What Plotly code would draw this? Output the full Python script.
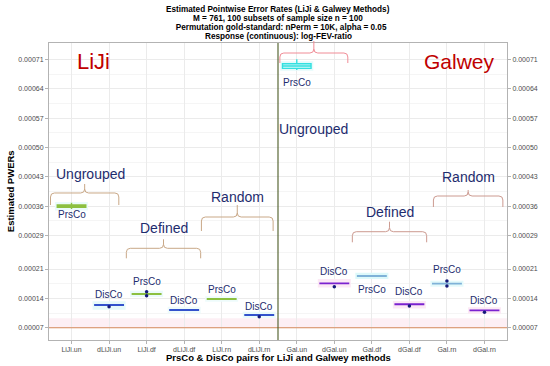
import plotly.graph_objects as go

# ---------------- data ----------------
categories = ["LiJi.un", "dLiJi.un", "LiJi.df", "dLiJi.df", "LiJi.rn", "dLiJi.rn",
              "Gal.un", "dGal.un", "Gal.df", "dGal.df", "Gal.rn", "dGal.rn"]
pair_labels = ["PrsCo", "DisCo", "PrsCo", "DisCo", "PrsCo", "DisCo",
               "PrsCo", "DisCo", "PrsCo", "DisCo", "PrsCo", "DisCo"]
box_median = [0.000360, 0.0001242, 0.0001504, 0.0001122, 0.0001385, 0.0001003,
              0.0006946, 0.0001760, 0.0001934, 0.0001258, 0.0001750, 0.0001115]
box_q1 = [0.0003573, 0.0001236, 0.0001498, 0.0001117, 0.0001380, 0.0000998,
          0.0006890, 0.0001755, 0.0001928, 0.0001252, 0.0001745, 0.0001110]
box_q3 = [0.0003628, 0.0001248, 0.0001510, 0.0001127, 0.0001390, 0.0001008,
          0.0007000, 0.0001765, 0.0001940, 0.0001264, 0.0001755, 0.0001120]
box_lo = [0.0003533, 0.0001236, 0.0001498, 0.0001117, 0.0001380, 0.0000998,
          0.0006850, 0.0001755, 0.0001928, 0.0001252, 0.0001745, 0.0001110]
box_hi = [0.0003680, 0.0001248, 0.0001510, 0.0001127, 0.0001390, 0.0001008,
          0.0007110, 0.0001765, 0.0001940, 0.0001264, 0.0001755, 0.0001120]
band_lo = [0.0003500, 0.0001130, 0.0001430, 0.0001040, 0.0001320, 0.0000930,
           0.0006830, 0.0001660, 0.0001860, 0.0001160, 0.0001680, 0.0001030]
band_hi = [0.0003700, 0.0001330, 0.0001580, 0.0001200, 0.0001450, 0.0001080,
           0.0007060, 0.0001860, 0.0002010, 0.0001340, 0.0001820, 0.0001190]
# individual dots (means / extreme points)
pt_cat = ["dLiJi.un", "LiJi.df", "LiJi.df", "dLiJi.rn", "dGal.un", "dGal.df",
          "Gal.rn", "Gal.rn", "dGal.rn"]
pt_val = [0.0001200, 0.0001560, 0.0001465, 0.0000963, 0.0001679, 0.0001218,
          0.0001815, 0.0001695, 0.0001068]
# label heights for PrsCo/DisCo text
pair_label_y = [0.000339, 0.0001504, 0.0001798, 0.0001344, 0.0001616, 0.0001201,
                0.0006564, 0.0002036, 0.0001623, 0.0001576, 0.0002094, 0.0001344]
y_tickvals = [0.00007, 0.00014, 0.00021, 0.00029, 0.00036, 0.00043,
              0.00050, 0.00057, 0.00064, 0.00071]
y_ticktext = ["0.00007", "0.00014", "0.00021", "0.00029", "0.00036", "0.00043",
              "0.00050", "0.00057", "0.00064", "0.00071"]
threshold = 0.00007
band_top = 0.0000925

# groups: name, start, end (x in category units), label y, brace horizontal y, tip y, end y
group_names = ["Ungrouped", "Defined", "Random", "Ungrouped", "Defined", "Random"]
group_x0 = [-0.56, 1.46, 3.46, 5.55, 7.48, 9.64]
group_x1 = [1.26, 3.44, 5.37, 7.36, 9.46, 11.49]
group_label_y = [0.0004368, 0.0003072, 0.0003819, 0.0005442, 0.0003468, 0.000429]
group_label_x = [0.5, 2.45, 4.41, 6.45, 8.47, 10.57]
brace_h = [0.0003915, 0.0002595, 0.0003342, 0.0007256, 0.0002991, 0.0003843]
brace_tip = [0.000413, 0.000281, 0.0003628, 0.0007543, 0.000323, 0.0003987]
brace_end = [0.0003628, 0.0002356, 0.0003008, 0.0007017, 0.0002738, 0.0003581]
brace_colors = ["#C9A887", "#C9A887", "#C9A887", "#F08C96", "#CC9A90", "#CC9A90"]

# ---------------- styles ----------------
line_colors = ["#8CC041", "#3352CC", "#8CC041", "#3352CC", "#8CC041", "#3352CC",
               "#33E0E0", "#7B22D0", "#7FB2D8", "#7B22D0", "#7FB2D8", "#7B22D0"]
fill_colors = ["rgba(200,240,240,0.6)", "rgba(225,250,250,0.5)", "rgba(225,250,250,0.5)",
               "rgba(225,250,250,0.5)", "rgba(225,250,250,0.5)", "rgba(225,250,250,0.5)",
               "rgba(210,250,250,0.7)", "rgba(225,250,250,0.5)", "rgba(225,250,250,0.5)",
               "rgba(225,250,250,0.5)", "rgba(225,250,250,0.5)", "rgba(225,250,250,0.5)"]
band_colors = ["#E9FBFB", "#E6FAFA", "#EAFBFB", "#EEFBFB", "#EEFBFB", "#EAFBFB",
               "#E4FBFB", "#FCE9F5", "#DDF9FA", "#FCE9F5", "#E4FAFB", "#FCE9F5"]
navy = "#1E2C6E"
red = "#C00000"
FONT = "Liberation Sans, Arial"

XMIN, XMAX = -0.6, 11.6
YMIN, YMAX = 0.00004064, 0.0007495
idx = {c: i for i, c in enumerate(categories)}

fig = go.Figure()

# background bands behind boxes
fig.add_trace(go.Bar(
    x=list(range(len(categories))),
    y=[h - l for l, h in zip(band_lo, band_hi)],
    base=band_lo, width=0.88,
    marker=dict(color=band_colors, line=dict(width=0)),
    hoverinfo="skip", showlegend=False))

# boxes
for i, c in enumerate(categories):
    fig.add_trace(go.Box(
        x=[i], q1=[box_q1[i]], median=[box_median[i]], q3=[box_q3[i]],
        lowerfence=[box_lo[i]], upperfence=[box_hi[i]],
        width=0.76, whiskerwidth=0,
        line=dict(color=line_colors[i], width=1.4),
        fillcolor=fill_colors[i], boxpoints=False,
        showlegend=False, hoverinfo="skip"))

# dots
fig.add_trace(go.Scatter(
    x=[idx[c] for c in pt_cat], y=pt_val, mode="markers",
    marker=dict(color="#141A7A", size=3.5),
    showlegend=False, hoverinfo="skip"))

# invisible trace to activate the right axis
fig.add_trace(go.Scatter(x=list(range(len(categories))), y=box_median, yaxis="y2",
                         mode="markers", marker=dict(opacity=0), showlegend=False,
                         hoverinfo="skip"))

shapes = []
# pink band and threshold line
shapes.append(dict(type="rect", xref="paper", yref="y", x0=0, x1=1, y0=threshold, y1=band_top,
                   fillcolor="#FDEFF4", line=dict(width=0), layer="below"))
shapes.append(dict(type="line", xref="paper", yref="y", x0=0, x1=1, y0=threshold, y1=threshold,
                   line=dict(color="#D98A5C", width=1.1)))
# method separator
shapes.append(dict(type="line", xref="x", yref="paper", x0=5.5, x1=5.5, y0=0, y1=1,
                   line=dict(color="#4A5A24", width=1.1)))

# braces (paper coords derived from axis ranges)
PW, PH = 466.0, 297.0


def px(v):
    return (v - XMIN) / (XMAX - XMIN)


def py(v):
    return (v - YMIN) / (YMAX - YMIN)


for k in range(len(group_names)):
    x0, x1 = px(group_x0[k]), px(group_x1[k])
    xm = (x0 + x1) / 2
    yh, yt, ye = py(brace_h[k]), py(brace_tip[k]), py(brace_end[k])
    rx, ry = 4 / PW, 4 / PH
    path = (f"M {x0},{ye} L {x0},{yh - ry} Q {x0},{yh} {x0 + rx},{yh} "
            f"L {xm - rx},{yh} Q {xm},{yh} {xm},{yh + ry} L {xm},{yt} "
            f"M {xm},{yh + ry} Q {xm},{yh} {xm + rx},{yh} "
            f"L {x1 - rx},{yh} Q {x1},{yh} {x1},{yh - ry} L {x1},{ye}")
    shapes.append(dict(type="path", xref="paper", yref="paper", path=path,
                       line=dict(color=brace_colors[k], width=1)))

annotations = []
for i, c in enumerate(categories):
    annotations.append(dict(x=i, y=pair_label_y[i], xref="x", yref="y", text=pair_labels[i],
                            showarrow=False, font=dict(size=10, color=navy, family=FONT)))
for k in range(len(group_names)):
    annotations.append(dict(x=group_label_x[k], y=group_label_y[k], xref="x", yref="y",
                            text=group_names[k], showarrow=False,
                            font=dict(size=14, color=navy, family=FONT)))
annotations.append(dict(x=0.58, y=0.0007065, xref="x", yref="y", text="LiJi", showarrow=False,
                        font=dict(size=22, color=red, family=FONT)))
annotations.append(dict(x=10.34, y=0.0007065, xref="x", yref="y", text="Galwey", showarrow=False,
                        font=dict(size=21, color=red, family=FONT)))

title_lines = ["Estimated Pointwise Error Rates (LiJi & Galwey Methods)",
               "M = 761, 100 subsets of sample size n = 100",
               "   Permutation gold-standard: nPerm = 10K, alpha = 0.05",
               "Response (continuous): log-FEV-ratio"]
for j, t in enumerate(title_lines):
    ypix = 9.1 + 9.1 * j
    annotations.append(dict(x=0.5, y=(340 - ypix) / PH, xref="paper", yref="paper",
                            text=f"<b>{t}</b>", showarrow=False, yanchor="middle",
                            font=dict(size=8.2, color="#000000", family=FONT)))

annotations.append(dict(x=0.5, y=-(357.5 - 340) / PH, xref="paper", yref="paper",
                        text="<b>PrsCo & DisCo pairs for LiJi and Galwey methods</b>",
                        showarrow=False, yanchor="middle",
                        font=dict(size=9.5, color="#000000", family=FONT)))
annotations.append(dict(x=-(49 - 10) / PW, y=0.5, xref="paper", yref="paper",
                        text="<b>Estimated PWERs</b>", showarrow=False, textangle=-90,
                        xanchor="center",
                        font=dict(size=9.5, color="#000000", family=FONT)))

tickfont = dict(size=7, color="#4D4D4D", family=FONT)
minor_vals = [(a + b) / 2 for a, b in zip(y_tickvals[:-1], y_tickvals[1:])]

fig.update_layout(
    width=550, height=366,
    margin=dict(l=49, r=35, t=43, b=26),
    plot_bgcolor="white", paper_bgcolor="white",
    showlegend=False, barmode="overlay",
    shapes=shapes, annotations=annotations,
    xaxis=dict(range=[XMIN, XMAX], tickvals=list(range(len(categories))), ticktext=categories,
               showgrid=True, gridcolor="#EBEBEB", gridwidth=1, zeroline=False,
               showline=True, linecolor="#B3B3B3", linewidth=1, mirror=True,
               ticks="outside", ticklen=3, tickcolor="#B3B3B3", tickfont=tickfont),
    yaxis=dict(range=[YMIN, YMAX], tickvals=y_tickvals, ticktext=y_ticktext,
               showgrid=True, gridcolor="#EBEBEB", gridwidth=1, zeroline=False,
               showline=True, linecolor="#B3B3B3", linewidth=1, mirror=True,
               ticks="outside", ticklen=3, tickcolor="#B3B3B3", tickfont=tickfont,
               minor=dict(tickvals=minor_vals, showgrid=True, gridcolor="#F5F5F5", ticks="")),
    yaxis2=dict(range=[YMIN, YMAX], tickvals=y_tickvals, ticktext=y_ticktext,
                overlaying="y", side="right", showgrid=False, zeroline=False,
                ticks="outside", ticklen=3, tickcolor="#B3B3B3", tickfont=tickfont),
)

fig.write_html("out.html", config={"displayModeBar": False},
               post_script="document.body.style.margin='0';document.body.style.padding='0';"
                           "document.documentElement.style.overflow='hidden';")
